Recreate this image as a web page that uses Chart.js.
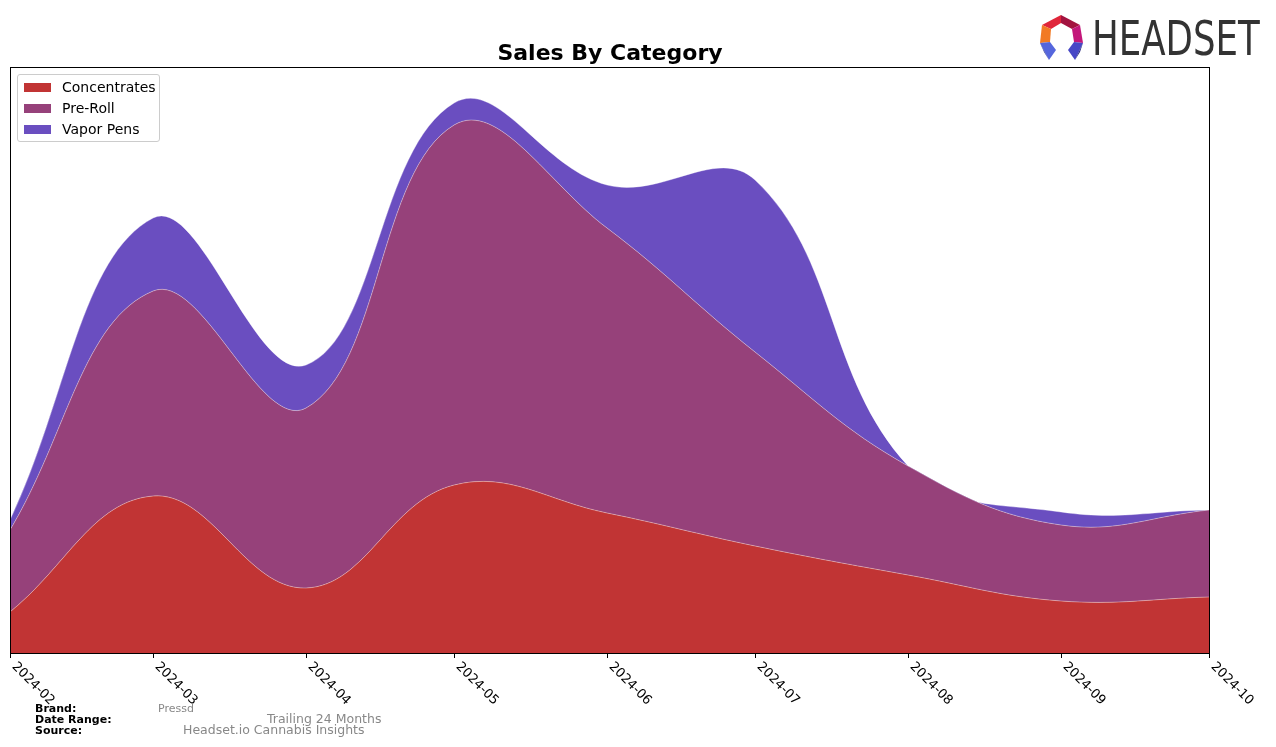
<!DOCTYPE html>
<html>
<head>
<meta charset="utf-8">
<script src="https://cdn.jsdelivr.net/npm/chart.js@4/dist/chart.umd.min.js"></script>
<style>
body{margin:0;background:#fff;font-family:"DejaVu Sans",sans-serif;}
#wrap{position:relative;width:1276px;height:747px;overflow:hidden;}
#chart{position:absolute;left:0;top:0;}
.title{position:absolute;left:0;width:1220px;top:40px;text-align:center;font-weight:bold;font-size:22px;color:#000;}
.legend{position:absolute;left:17px;top:74px;width:141px;height:66px;border:1px solid #ccc;border-radius:3px;background:rgba(255,255,255,0.85);font-size:14px;}
.legend div{position:absolute;left:6px;height:16px;line-height:16px;}
.legend span{display:inline-block;width:27px;height:9px;margin-right:11px;vertical-align:0px;}
.foot{position:absolute;font-size:11px;color:#000;font-weight:bold;}
.fv{position:absolute;color:#888;}
#logo{position:absolute;left:1036px;top:12px;}
#logoText{position:absolute;left:1092px;top:10px;font-family:"DejaVu Sans Condensed","DejaVu Sans",sans-serif;font-size:48px;color:#333;transform-origin:0 0;white-space:nowrap;}
</style>
</head>
<body>
<div id="wrap">
<canvas id="chart" width="1276" height="747"></canvas>
<div class="title">Sales By Category</div>
<div class="legend" id="legend"></div>

<svg id="logo" width="52" height="52" viewBox="0 0 52 52">
<polygon points="6,13 25,3 25,11 15,17" fill="#e0263a"/>
<polygon points="25,3 44,13 36,17 25,11" fill="#a3133f"/>
<polygon points="44,13 47,31 38,30 36,17" fill="#c3177a"/>
<polygon points="6,13 15,17 14,30 4,31" fill="#f27a25"/>
<polygon points="4,31 14,30 20,38 13,48" fill="#5566dd"/>
<polygon points="4,31 13,48 8,40" fill="#2c3596"/>
<polygon points="47,31 38,30 32,38 39,48" fill="#4747c6"/>
<polygon points="47,31 39,48 44,40" fill="#26297e"/>
</svg>
<div id="logoText">HEADSET</div>

<div class="foot" style="left:35px;top:702px;">Brand:</div>
<div class="foot" style="left:35px;top:713px;">Date Range:</div>
<div class="foot" style="left:35px;top:724px;">Source:</div>
<div class="fv" style="left:158px;top:702px;font-size:11px;">Pressd</div>
<div class="fv" style="left:267px;top:711px;font-size:12.5px;">Trailing 24 Months</div>
<div class="fv" style="left:183px;top:722px;font-size:12.5px;">Headset.io Cannabis Insights</div>
</div>

<script>
// monthly sales (arbitrary units)
const months = ["2024-02","2024-03","2024-04","2024-05","2024-06","2024-07","2024-08","2024-09","2024-10"];
const concentrates = [41,157,65,168,140,107,78,52,56];
const preRoll = [82,205,180,360,285,194,109,76,87];
const vaporPens = [10,73,43,22,43,172,0,13,0];

const seriesNames = ["Concentrates","Pre-Roll","Vapor Pens"];
const seriesColors = ["#c13434","#96417a","#6a4ec0"];

// x values as days since the first month
const t0 = Date.parse(months[0]+"-01T00:00:00Z");
function dayOf(m){ return (Date.parse(m+"-01T00:00:00Z")-t0)/86400000; }
const xs = months.map(dayOf);

function pts(arr){ return arr.map((v,i)=>({x:xs[i],y:v})); }

let lg = document.getElementById("legend");
seriesNames.forEach((n,i)=>{
  let d = document.createElement("div");
  d.style.top = (4+i*21)+"px";
  d.innerHTML = '<span style="background:'+seriesColors[i]+'"></span>'+n;
  lg.appendChild(d);
});

// fit logo text width
let lt = document.getElementById("logoText");
lt.style.transform = "scaleX("+(168/lt.offsetWidth)+")";

const axisPlugin = {
  id:"axisPlugin",
  afterDraw(c){
    let ctx = c.ctx, a = c.chartArea, xs_ = c.scales.x;
    ctx.save();
    ctx.strokeStyle = "#000";
    ctx.lineWidth = 1;
    ctx.strokeRect(a.left+0.5, a.top+0.5, a.right-a.left, a.bottom-a.top);
    ctx.font = "13px 'DejaVu Sans'";
    ctx.fillStyle = "#000";
    months.forEach((m,i)=>{
      let x = Math.round(xs_.getPixelForValue(xs[i]))+0.5;
      ctx.beginPath();
      ctx.moveTo(x, a.bottom);
      ctx.lineTo(x, a.bottom+5);
      ctx.stroke();
      ctx.save();
      ctx.translate(x+8, a.bottom+7);
      ctx.rotate(Math.PI/4);
      ctx.textAlign = "left";
      ctx.textBaseline = "top";
      ctx.fillText(m, 0, 0);
      ctx.restore();
    });
    ctx.restore();
  }
};

new Chart(document.getElementById("chart"),{
  type:"line",
  data:{
    datasets:[
      {label:seriesNames[0], data:pts(concentrates), backgroundColor:seriesColors[0], borderColor:"rgba(255,255,255,0.35)", borderWidth:1, fill:"origin", pointRadius:0, tension:0.4},
      {label:seriesNames[1], data:pts(preRoll), backgroundColor:seriesColors[1], borderColor:"rgba(255,255,255,0.35)", borderWidth:1, fill:"-1", pointRadius:0, tension:0.4},
      {label:seriesNames[2], data:pts(vaporPens), backgroundColor:seriesColors[2], borderColor:"rgba(255,255,255,0.35)", borderWidth:1, fill:"-1", pointRadius:0, tension:0.4}
    ]
  },
  options:{
    responsive:false,
    animation:false,
    layout:{padding:{left:10,right:67,top:67,bottom:94}},
    scales:{
      x:{type:"linear", min:xs[0], max:xs[xs.length-1], display:false},
      y:{stacked:true, min:0, max:586, display:false}
    },
    plugins:{legend:{display:false}, tooltip:{enabled:false}}
  },
  plugins:[axisPlugin]
});
</script>
</body>
</html>
